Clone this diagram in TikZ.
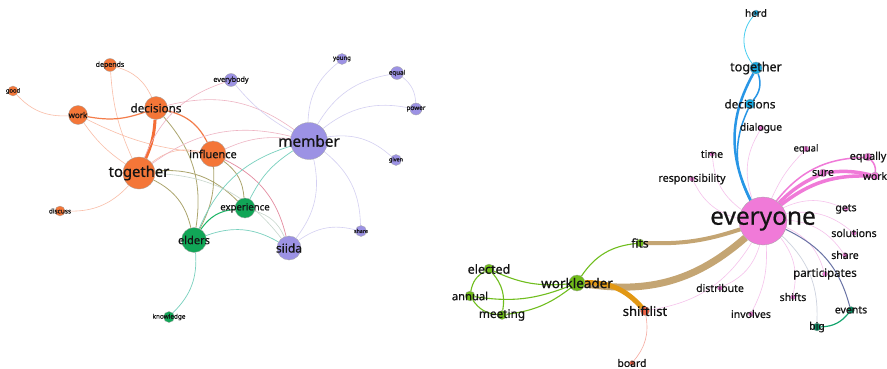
\documentclass[tikz,border=0pt]{standalone}
\usepackage{fontspec}
\setmainfont{Noto Sans}
\newfontfamily\labfont{Noto Sans}[FakeBold=0.6]
\pgfdeclarelayer{bg}
\pgfsetlayers{bg,main}
\definecolor{lor}{RGB}{244,118,56}
\definecolor{lpu}{RGB}{156,146,228}
\definecolor{lgr}{RGB}{17,166,87}
\definecolor{rpk}{RGB}{240,122,216}
\definecolor{rcy}{RGB}{25,170,225}
\definecolor{rgr}{RGB}{112,188,25}
\definecolor{rdg}{RGB}{12,140,100}
\definecolor{rrd}{RGB}{240,100,70}
\definecolor{ctan}{RGB}{196,165,115}
\definecolor{cgold}{RGB}{226,152,20}
\begin{document}
\begin{tikzpicture}[x=1pt,y=-1pt,
  nd/.style={circle,draw=black!35,line width=0.3pt,inner sep=0pt,minimum size=#1},
  lab/.style={font=\labfont\fontsize{#1}{#1}\selectfont,inner sep=0pt,text=black!92},
  vl/.style={bend left=#1}, vl/.default=25,
  vr/.style={bend right=#1}, vr/.default=25,
  eol/.style={draw={rgb,255:red,250;green,190;blue,168},line width=0.6pt},
  eom/.style={draw={rgb,255:red,244;green,125;blue,75},line width=1.2pt},
  eot/.style={draw={rgb,255:red,244;green,110;blue,55},line width=3pt},
  pkl/.style={draw={rgb,255:red,238;green,180;blue,195},line width=0.6pt},
  pkm/.style={draw={rgb,255:red,228;green,140;blue,160},line width=0.7pt},
  oll/.style={draw={rgb,255:red,172;green,165;blue,110},line width=0.8pt},
  tel/.style={draw={rgb,255:red,120;green,208;blue,190},line width=0.7pt},
  pul/.style={draw={rgb,255:red,212;green,208;blue,242},line width=0.6pt},
  gyl/.style={draw={rgb,255:red,200;green,215;blue,205},line width=0.6pt},
  grn/.style={draw={rgb,255:red,25;green,180;blue,100},line width=1pt},
  pkr/.style={draw={rgb,255:red,246;green,195;blue,236},line width=0.6pt},
  pkrm/.style={draw=rpk,line width=1.5pt},
  pkrt/.style={draw=rpk,line width=3.5pt},
  cyl/.style={draw={rgb,255:red,70;green,205;blue,240},line width=0.8pt},
  blm/.style={draw={rgb,255:red,40;green,150;blue,230},line width=1.5pt},
  blt/.style={draw={rgb,255:red,40;green,150;blue,230},line width=2.5pt},
  slt/.style={draw={rgb,255:red,105;green,115;blue,165},line width=1pt},
  gyr/.style={draw={rgb,255:red,205;green,210;blue,222},line width=0.7pt},
  dgr/.style={draw={rgb,255:red,20;green,165;blue,110},line width=1.2pt},
  lgl/.style={draw={rgb,255:red,112;green,190;blue,30},line width=1.1pt},
  rdl/.style={draw={rgb,255:red,246;green,170;blue,160},line width=0.6pt}]
\path[use as bounding box] (0,0) rectangle (887,369);

% ---------- left graph nodes ----------
\node[nd=10,fill=lor] (good) at (13,91) {};
\node[nd=13,fill=lor] (depends) at (110,65) {};
\node[nd=19,fill=lor] (lwork) at (78,115) {};
\node[nd=23,fill=lor] (ldecisions) at (156,108) {};
\node[nd=32,fill=lor] (ltogether) at (139,173) {};
\node[nd=26,fill=lor] (influence) at (213,154) {};
\node[nd=10,fill=lor] (discuss) at (60,211) {};
\node[nd=13,fill=lpu] (everybody) at (231,80) {};
\node[nd=11,fill=lpu] (young) at (342,59) {};
\node[nd=13,fill=lpu] (lequal) at (397,73) {};
\node[nd=12,fill=lpu] (power) at (416,109) {};
\node[nd=11,fill=lpu] (given) at (396,160) {};
\node[nd=37,fill=lpu] (member) at (309,141) {};
\node[nd=20,fill=lgr] (experience) at (245,208) {};
\node[nd=25,fill=lgr] (elders) at (194,240) {};
\node[nd=24,fill=lpu] (siida) at (289,248) {};
\node[nd=11,fill=lpu] (lshare) at (361,231) {};
\node[nd=11,fill=lgr] (knowledge) at (169,317) {};

% ---------- right graph nodes ----------
\node[nd=6,fill=rcy] (herd) at (756,13) {};
\node[nd=12,fill=rcy] (rtogether) at (756,68) {};
\node[nd=10,fill=rcy] (rdecisions) at (750,104) {};
\node[nd=6,fill=rpk] (dialogue) at (761,128) {};
\node[nd=6,fill=rpk] (requal) at (806,149) {};
\node[nd=5,fill=rpk] (time) at (712,154) {};
\node[nd=8,fill=rpk] (equally) at (868,157) {};
\node[nd=5,fill=rpk] (resp) at (692,179) {};
\node[nd=8,fill=rpk] (sure) at (823,173) {};
\node[nd=8,fill=rpk] (rwork) at (875,176) {};
\node[nd=48,fill=rpk] (everyone) at (763,221) {};
\node[nd=5,fill=rpk] (gets) at (846,209) {};
\node[nd=5,fill=rpk] (solutions) at (854,233) {};
\node[nd=5,fill=rpk] (rshare) at (845,255) {};
\node[nd=5,fill=rpk] (participates) at (825,274) {};
\node[nd=5,fill=rpk] (distribute) at (720,288) {};
\node[nd=5,fill=rpk] (shifts) at (793,297) {};
\node[nd=5,fill=rpk] (involves) at (751,314) {};
\node[nd=7,fill=rdg] (events) at (851,310) {};
\node[nd=8,fill=rdg] (big) at (817,327) {};
\node[nd=8,fill=rgr] (fits) at (640,243) {};
\node[nd=16,fill=rgr] (workleader) at (577,283) {};
\node[nd=10,fill=rgr] (elected) at (489,269) {};
\node[nd=10,fill=rgr] (annual) at (470,296) {};
\node[nd=9,fill=rgr] (meeting) at (502,315) {};
\node[nd=9,fill=rrd] (shiftlist) at (645,311) {};
\node[nd=5,fill=rrd] (board) at (632,363) {};

% ---------- edges ----------
\begin{pgfonlayer}{bg}
\fill[white] (0,0) rectangle (887,369);
\draw[eol] (good) to[vr] (lwork);
\draw[eol] (depends) to[vr=10] (ltogether);
\draw[eol] (depends) to[vl] (ldecisions);
\draw[eom] (lwork) to[vr=15] (ldecisions);
\draw[eol] (lwork) to[vr=10] (ltogether);
\draw[eol] (lwork) to[vr=10] (influence);
\draw[eot] (ldecisions) to[vl=10] (ltogether);
\draw[eom] (ldecisions) to[vl] (influence);
\draw[pkl] (ldecisions) to[vl] (member);
\draw[oll] (ldecisions) to[vl] (elders);
\draw[pkl] (everybody) to[vr] (ltogether);
\draw[pul] (everybody) to[vr=10] (member);
\draw[eol] (ltogether) to[vl] (influence);
\draw[pkl] (ltogether) to[vl] (member);
\draw[oll] (ltogether) to[vl] (experience);
\draw[oll] (ltogether) to[vl] (elders);
\draw[gyl] (ltogether) to[vl] (siida);
\draw[eol] (ltogether) to[vl] (discuss);
\draw[oll] (influence) to[vl=15] (elders);
\draw[oll] (influence) to[vl] (experience);
\draw[pkm] (influence) to[vl] (siida);
\draw[pkl] (influence) to[vl=15] (member);
\draw[tel] (member) to[vr=15] (experience);
\draw[tel] (member) to[vr] (elders);
\draw[pul] (member) to[vl] (siida);
\draw[pul] (member) to[vl] (lshare);
\draw[pul] (member) to[vl] (given);
\draw[pul] (member) to[vl] (power);
\draw[pul] (member) to[vl] (lequal);
\draw[pul] (member) to[vl] (young);
\draw[pul] (lequal) to[vl] (power);
\draw[grn] (experience) to[vr] (elders);
\draw[gyl] (experience) to[vl] (siida);
\draw[tel] (elders) to[vl] (siida);
\draw[tel] (elders) to[vl] (knowledge);
\draw[pul] (siida) to[vl] (lshare);
% right
\draw[cyl] (herd) to[vr=40] (rtogether);
\draw[blm] (rtogether) to[vl=30] (rdecisions);
\draw[blt] (rtogether) to[vr=28] (everyone);
\draw[blm] (rdecisions) to[vr=26] (everyone);
\draw[pkr] (dialogue) to[vr] (everyone);
\draw[pkr] (time) to[vr] (everyone);
\draw[pkr] (resp) to[vr] (everyone);
\draw[pkr] (requal) to[vr=10] (everyone);
\draw[pkrm] (everyone) to[vl] (equally);
\draw[pkrt] (everyone) to[vl=10] (sure);
\draw[pkrt] (everyone) to[vl=20] (rwork);
\draw[pkrt] (sure) to[vl=10] (rwork);
\draw[pkrm] (equally) to[vl] (rwork);
\draw[pkr] (everyone) to[vl] (gets);
\draw[pkr] (everyone) to[vl] (solutions);
\draw[pkr] (everyone) to[vl] (rshare);
\draw[pkr] (everyone) to[vl] (participates);
\draw[pkr] (everyone) to[vl] (shifts);
\draw[pkr] (everyone) to[vl=15] (involves);
\draw[pkr] (everyone) to[vl] (distribute);
\draw[pkr] (everyone) to[vl] (shiftlist);
\draw[slt] (everyone) to[vl] (events);
\draw[gyr] (everyone) to[vl] (big);
\draw[dgr] (events) to[vl] (big);
\draw[draw=ctan,line width=4pt] (everyone) to[vl=10] (fits);
\draw[draw=ctan,line width=7pt] (everyone) to[vl=25] (workleader);
\draw[draw=cgold,line width=5pt] (workleader) to[vl] (shiftlist);
\draw[lgl] (workleader) to[vl] (fits);
\draw[lgl] (workleader) to[vl=15] (elected);
\draw[lgl] (workleader) to[vl=15] (annual);
\draw[lgl] (workleader) to[vl=15] (meeting);
\draw[lgl] (elected) to[vr] (annual);
\draw[lgl] (elected) to[vl] (meeting);
\draw[lgl] (annual) to[vr] (meeting);
\draw[rdl] (shiftlist) to[vl] (board);
\end{pgfonlayer}

% ---------- labels ----------
\node[lab=5.8] (goodt) at (good) {good};
\node[lab=7] (dependst) at (depends) {depends};
\node[lab=8] (lworkt) at (lwork) {work};
\node[lab=11.7] (ldecisionst) at (ldecisions) {decisions};
\node[lab=14.8] (ltogethert) at (ltogether) {together};
\node[lab=11] (influencet) at (influence) {influence};
\node[lab=6.5] (discusst) at (discuss) {discuss};
\node[lab=7.2] (everybodyt) at (everybody) {everybody};
\node[lab=6] (youngt) at (young) {young};
\node[lab=6.2] (lequalt) at (lequal) {equal};
\node[lab=6.4] (powert) at (power) {power};
\node[lab=5.5] (givent) at (given) {given};
\node[lab=15.3] (membert) at (member) {member};
\node[lab=9.6] (experiencet) at (experience) {experience};
\node[lab=11] (elderst) at (elders) {elders};
\node[lab=12] (siidat) at (siida) {siida};
\node[lab=5.3] (lsharet) at (lshare) {share};
\node[lab=6.4] (knowledget) at (knowledge) {knowledge};

\node[lab=10] (herdt) at (herd) {herd};
\node[lab=12.6] (rtogethert) at (rtogether) {together};
\node[lab=11.7] (rdecisionst) at (rdecisions) {decisions};
\node[lab=10.3] (dialoguet) at (dialogue) {dialogue};
\node[lab=9.5] (requalt) at (requal) {equal};
\node[lab=10.5] (timet) at (time) {time};
\node[lab=10.8] (equallyt) at (equally) {equally};
\node[lab=10.7] (respt) at (resp) {responsibility};
\node[lab=10.7] (suret) at (sure) {sure};
\node[lab=10.3] (rworkt) at (rwork) {work};
\node[lab=24.4] (everyonet) at (everyone) {everyone};
\node[lab=10.5] (getst) at (gets) {gets};
\node[lab=10.6] (solutionst) at (solutions) {solutions};
\node[lab=10.5] (rsharet) at (rshare) {share};
\node[lab=11.5] (participatest) at (participates) {participates};
\node[lab=10.5] (distributet) at (distribute) {distribute};
\node[lab=10.5] (shiftst) at (shifts) {shifts};
\node[lab=10.5] (involvest) at (involves) {involves};
\node[lab=10.5] (eventst) at (events) {events};
\node[lab=10.5] (bigt) at (big) {big};
\node[lab=12] (fitst) at (fits) {fits};
\node[lab=13.5] (workleadert) at (workleader) {workleader};
\node[lab=12.5] (electedt) at (elected) {elected};
\node[lab=11.2] (annualt) at (annual) {annual};
\node[lab=11.8] (meetingt) at (meeting) {meeting};
\node[lab=13] (shiftlistt) at (shiftlist) {shiftlist};
\node[lab=10.4] (boardt) at (board) {board};
\end{tikzpicture}
\end{document}
